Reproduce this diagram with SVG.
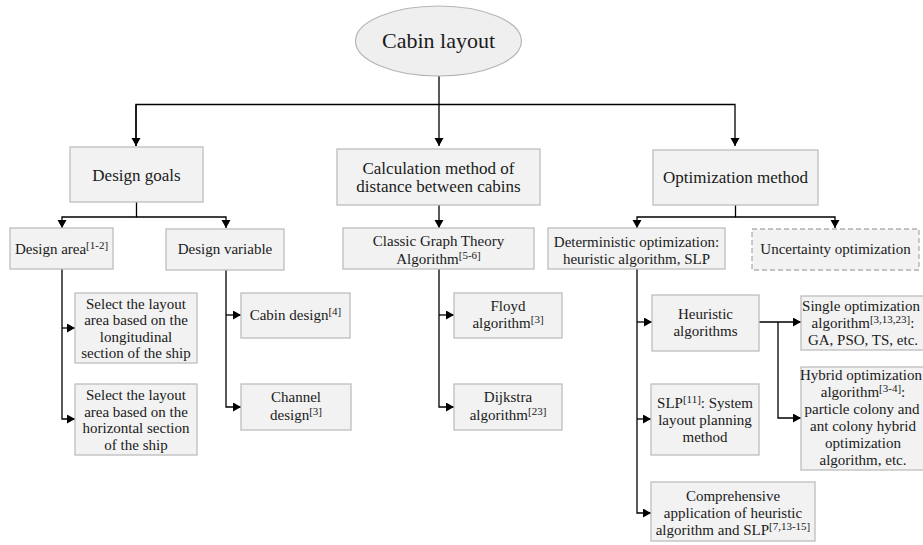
<svg xmlns="http://www.w3.org/2000/svg" width="923" height="545" viewBox="0 0 923 545">
<style>
.box{fill:#f2f2f2;stroke:#bdbdbd;stroke-width:1.3}
.dash{fill:#f2f2f2;stroke:#b0b0b0;stroke-width:1.3;stroke-dasharray:5 3}
.t{font-family:"Liberation Serif","Times New Roman",serif;font-size:15px;fill:#1a1a1a;text-anchor:middle}
.big{font-size:17px}
.huge{font-size:22px}
.sup{font-size:11px}
.c{fill:none;stroke:#000;stroke-width:1.3}
</style>
<defs>
<marker id="ah" markerUnits="userSpaceOnUse" markerWidth="10" markerHeight="10" refX="8" refY="4.5" orient="auto">
<path d="M0,0 L8,4.5 L0,9 Z" fill="#000"/>
</marker>
</defs>
<rect width="923" height="545" fill="#fff"/>
<g id="connectors">
<path class="c" d="M439,76 V146" marker-end="url(#ah)"/>
<path class="c" d="M136,146 V104.5 H735 V146" marker-end="url(#ah)"/>
<path class="c" d="M136,104.5 V146" marker-end="url(#ah)"/>
<path class="c" d="M136.5,202 V217 H62 V228" marker-end="url(#ah)"/>
<path class="c" d="M136.5,217 H226 V228" marker-end="url(#ah)"/>
<path class="c" d="M62,269 V419 H75" marker-end="url(#ah)"/>
<path class="c" d="M62,328 H75" marker-end="url(#ah)"/>
<path class="c" d="M226,270 V407 H241" marker-end="url(#ah)"/>
<path class="c" d="M226,315 H241" marker-end="url(#ah)"/>
<path class="c" d="M439,205 V228" marker-end="url(#ah)"/>
<path class="c" d="M439,269 V407 H454" marker-end="url(#ah)"/>
<path class="c" d="M439,315 H454" marker-end="url(#ah)"/>
<path class="c" d="M735.5,205 V217 H637 V228" marker-end="url(#ah)"/>
<path class="c" d="M735.5,217 H835 V228" marker-end="url(#ah)"/>
<path class="c" d="M637,269 V513 H651" marker-end="url(#ah)"/>
<path class="c" d="M637,322 H652" marker-end="url(#ah)"/>
<path class="c" d="M637,419 H651" marker-end="url(#ah)"/>
<path class="c" d="M759,322 H801" marker-end="url(#ah)"/>
<path class="c" d="M778,322 V418 H801" marker-end="url(#ah)"/>
</g>
<g id="root">
<ellipse cx="438.5" cy="41" rx="83" ry="35" fill="#efefef" stroke="#b5b5b5" stroke-width="1.2"/>
<text class="t huge" x="438.5" y="48">Cabin layout</text>
</g>
<g id="design-goals">
<rect class="box" x="70" y="147" width="133" height="55"/>
<text class="t big" x="136.5" y="181">Design goals</text>
</g>
<g id="calc-method">
<rect class="box" x="337" y="149" width="203" height="56"/>
<text class="t big" x="438.5" y="174">Calculation method of</text>
<text class="t big" x="438.5" y="192">distance between cabins</text>
</g>
<g id="opt-method">
<rect class="box" x="653" y="150" width="165" height="55"/>
<text class="t big" x="735.5" y="183">Optimization method</text>
</g>
<g id="design-area">
<rect class="box" x="10" y="228" width="103" height="41"/>
<text class="t" x="61.5" y="254">Design area<tspan class="sup" dy="-5">[1-2]</tspan></text>
</g>
<g id="design-variable">
<rect class="box" x="166" y="229" width="118" height="41"/>
<text class="t" x="225" y="254">Design variable</text>
</g>
<g id="longitudinal">
<rect class="box" x="75" y="293" width="122" height="70"/>
<text class="t" x="136" y="309">Select the layout</text>
<text class="t" x="136" y="325">area based on the</text>
<text class="t" x="136" y="342">longitudinal</text>
<text class="t" x="136" y="358">section of the ship</text>
</g>
<g id="horizontal">
<rect class="box" x="75" y="384" width="122" height="71"/>
<text class="t" x="136" y="400">Select the layout</text>
<text class="t" x="136" y="417">area based on the</text>
<text class="t" x="136" y="433">horizontal section</text>
<text class="t" x="136" y="450">of the ship</text>
</g>
<g id="cabin-design">
<rect class="box" x="241" y="293" width="109" height="45"/>
<text class="t" x="295.5" y="320">Cabin design<tspan class="sup" dy="-5">[4]</tspan></text>
</g>
<g id="channel-design">
<rect class="box" x="241" y="384" width="110" height="46"/>
<text class="t" x="296" y="402">Channel</text>
<text class="t" x="296" y="420">design<tspan class="sup" dy="-5">[3]</tspan></text>
</g>
<g id="classic-graph">
<rect class="box" x="343" y="228" width="191" height="41"/>
<text class="t" x="438.5" y="246">Classic Graph Theory</text>
<text class="t" x="438.5" y="264">Algorithm<tspan class="sup" dy="-5">[5-6]</tspan></text>
</g>
<g id="floyd">
<rect class="box" x="454" y="293" width="108" height="45"/>
<text class="t" x="508" y="311">Floyd</text>
<text class="t" x="508" y="328">algorithm<tspan class="sup" dy="-5">[3]</tspan></text>
</g>
<g id="dijkstra">
<rect class="box" x="454" y="384" width="108" height="46"/>
<text class="t" x="508" y="402">Dijkstra</text>
<text class="t" x="508" y="420">algorithm<tspan class="sup" dy="-5">[23]</tspan></text>
</g>
<g id="deterministic">
<rect class="box" x="548" y="228" width="177" height="41"/>
<text class="t" x="636.5" y="247">Deterministic optimization:</text>
<text class="t" x="636.5" y="264">heuristic algorithm, SLP</text>
</g>
<g id="uncertainty">
<rect class="dash" x="752" y="229" width="167" height="41"/>
<text class="t" x="835.5" y="254">Uncertainty optimization</text>
</g>
<g id="heuristic">
<rect class="box" x="652" y="295" width="107" height="56"/>
<text class="t" x="705.5" y="319">Heuristic</text>
<text class="t" x="705.5" y="336">algorithms</text>
</g>
<g id="slp">
<rect class="box" x="651" y="384" width="108" height="71"/>
<text class="t" x="705" y="408">SLP<tspan class="sup" dy="-5">[11]</tspan><tspan dy="5">: System</tspan></text>
<text class="t" x="705" y="425">layout planning</text>
<text class="t" x="705" y="442">method</text>
</g>
<g id="comprehensive">
<rect class="box" x="651" y="482" width="164" height="59"/>
<text class="t" x="733" y="501">Comprehensive</text>
<text class="t" x="733" y="518">application of heuristic</text>
<text class="t" x="733" y="535">algorithm and SLP<tspan class="sup" dy="-5">[7,13-15]</tspan></text>
</g>
<g id="single">
<rect class="box" x="801" y="296" width="130" height="54"/>
<text class="t" x="861" y="311">Single optimization</text>
<text class="t" x="863" y="328">algorithm<tspan class="sup" dy="-5">[3,13,23]</tspan><tspan dy="5">:</tspan></text>
<text class="t" x="863" y="345">GA, PSO, TS, etc.</text>
</g>
<g id="hybrid">
<rect class="box" x="801" y="367" width="130" height="103"/>
<text class="t" x="861" y="380">Hybrid optimization</text>
<text class="t" x="863" y="397">algorithm<tspan class="sup" dy="-5">[3-4]</tspan><tspan dy="5">:</tspan></text>
<text class="t" x="862" y="414">particle colony and</text>
<text class="t" x="863" y="431">ant colony hybrid</text>
<text class="t" x="863" y="448">optimization</text>
<text class="t" x="863" y="465">algorithm, etc.</text>
</g>
</svg>
